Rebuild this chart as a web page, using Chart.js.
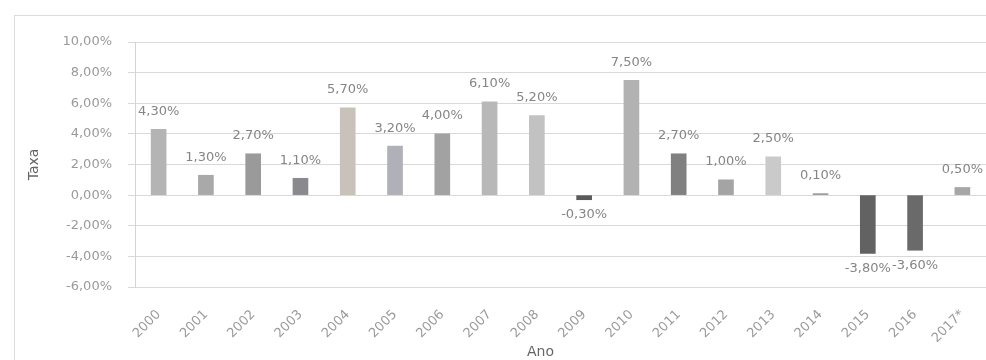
<!DOCTYPE html>
<html lang="pt">
<head>
  <meta charset="UTF-8">
  <title>Taxa por Ano</title>
  <script src="https://cdn.jsdelivr.net/npm/chart.js"></script>
  <style>
    html, body { margin: 0; padding: 0; background: #fff; overflow: hidden; }
    #wrap { position: relative; width: 986px; height: 360px; }
  </style>
</head>
<body>
  <div id="wrap">
    <canvas id="taxaChart"></canvas>
  </div>

  <script>
    // Taxa anual (%)
    const anos = ['2000', '2001', '2002', '2003', '2004', '2005', '2006', '2007', '2008',
                  '2009', '2010', '2011', '2012', '2013', '2014', '2015', '2016', '2017*'];
    const taxas = [4.3, 1.3, 2.7, 1.1, 5.7, 3.2, 4.0, 6.1, 5.2,
                   -0.3, 7.5, 2.7, 1.0, 2.5, 0.1, -3.8, -3.6, 0.5];
    const coresBarras = ['#b4b4b4', '#a9a9a9', '#9a9a9a', '#8a8a8e', '#c9c2ba', '#b0b0b8',
                         '#a2a2a2', '#b8b8b8', '#c2c2c2', '#5a5a5a', '#b2b2b2', '#808080',
                         '#a4a4a4', '#cacaca', '#9c9c9c', '#626262', '#6a6a6a', '#a6a6a6'];
    const eixoY = { min: -6, max: 10, passo: 2 };

    function pct(v) {
      return v.toFixed(2).replace('.', ',') + '%';
    }

    // moldura clara em volta do gráfico
    const moldura = {
      id: 'moldura',
      beforeDraw(chart) {
        const ctx = chart.ctx;
        ctx.save();
        ctx.strokeStyle = '#dcdcdc';
        ctx.lineWidth = 1;
        ctx.strokeRect(14.5, 15.5, 1000, 400);
        ctx.restore();
      }
    };

    // rótulos de valor acima/abaixo de cada barra
    const rotulos = {
      id: 'rotulos',
      afterDatasetsDraw(chart) {
        const ctx = chart.ctx;
        const meta = chart.getDatasetMeta(0);
        ctx.save();
        ctx.font = '13px "DejaVu Sans", Verdana, sans-serif';
        ctx.fillStyle = '#858585';
        ctx.textAlign = 'center';
        ctx.textBaseline = 'middle';
        meta.data.forEach((bar, i) => {
          const v = taxas[i];
          const y = v >= 0 ? bar.y - 18 : bar.y + 15;
          ctx.fillText(pct(v), bar.x, y);
        });
        ctx.restore();
      }
    };

    // título do eixo x um pouco à esquerda do centro
    const tituloAno = {
      id: 'tituloAno',
      afterDraw(chart) {
        const ctx = chart.ctx;
        const x = chart.scales.x;
        ctx.save();
        ctx.font = '14px "DejaVu Sans", Verdana, sans-serif';
        ctx.fillStyle = '#666';
        ctx.textAlign = 'center';
        ctx.textBaseline = 'middle';
        ctx.fillText('Ano', (x.left + x.right) / 2 - 20, x.bottom - 8);
        ctx.restore();
      }
    };

    const fonteEixo = { family: '"DejaVu Sans", Verdana, sans-serif', size: 13 };

    new Chart(document.getElementById('taxaChart'), {
      type: 'bar',
      data: {
        labels: anos,
        datasets: [{
          data: taxas,
          backgroundColor: coresBarras,
          borderWidth: 0,
          barThickness: 15
        }]
      },
      options: {
        responsive: true,
        maintainAspectRatio: false,
        animation: false,
        layout: { padding: { left: 26, top: 42, right: 0, bottom: 0 } },
        plugins: {
          legend: { display: false },
          tooltip: { enabled: false }
        },
        scales: {
          x: {
            grid: { display: false, drawTicks: false },
            border: { display: false },
            ticks: {
              font: fonteEixo,
              color: '#9a9a9a',
              minRotation: 45,
              maxRotation: 45,
              padding: 20
            },
            afterFit(scale) {
              scale.height = 73;
              scale.paddingRight = 0;
            }
          },
          y: {
            min: eixoY.min,
            max: eixoY.max,
            grid: { color: '#d9d9d9', tickLength: 7 },
            border: { display: true, color: '#d4d4d4' },
            ticks: {
              stepSize: eixoY.passo,
              font: fonteEixo,
              color: '#9a9a9a',
              padding: 16,
              callback: v => pct(v)
            },
            title: {
              display: true,
              text: 'Taxa',
              color: '#666',
              font: { family: '"DejaVu Sans", Verdana, sans-serif', size: 14 },
              padding: 0
            },
            afterFit(scale) { scale.width = 109; }
          }
        }
      },
      plugins: [moldura, rotulos, tituloAno]
    });
  </script>
</body>
</html>
